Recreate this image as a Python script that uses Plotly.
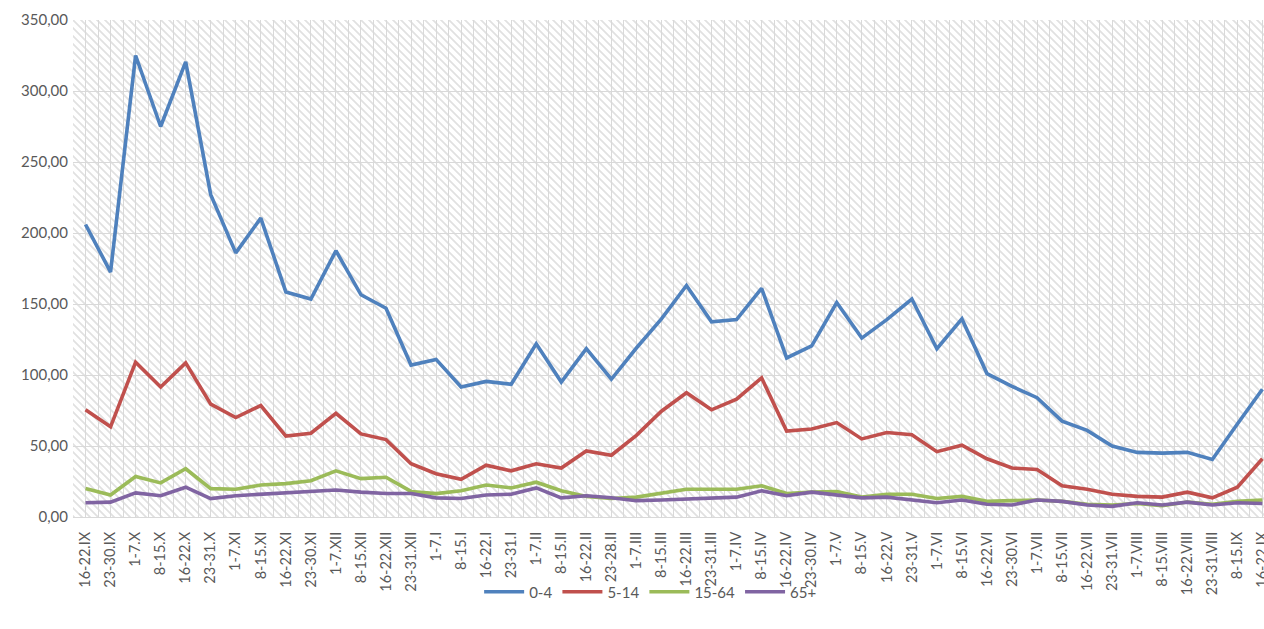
import base64
import plotly.graph_objects as go

categories = [
    "16-22.IX", "23-30.IX", "1-7.X", "8-15.X", "16-22.X", "23-31.X",
    "1-7.XI", "8-15.XI", "16-22.XI", "23-30.XI", "1-7.XII", "8-15.XII",
    "16-22.XII", "23-31.XII", "1-7.I", "8-15.I", "16-22.I", "23-31.I",
    "1-7.II", "8-15.II", "16-22.II", "23-28.II", "1-7.III", "8-15.III",
    "16-22.III", "23-31.III", "1-7.IV", "8-15.IV", "16-22.IV", "23-30.IV",
    "1-7.V", "8-15.V", "16-22.V", "23-31.V", "1-7.VI", "8-15.VI",
    "16-22.VI", "23-30.VI", "1-7.VII", "8-15.VII", "16-22.VII", "23-31.VII",
    "1-7.VIII", "8-15.VIII", "16-22.VIII", "23-31.VIII", "8-15.IX", "16-22.IX",
]

age_0_4 = [
    206, 172.5, 325, 275, 320.5, 227, 186, 210.5, 158.5, 153.5, 187.5, 156.5,
    147, 107, 111, 91.5, 95.5, 93.5, 122, 95, 118.5, 97, 119, 139.5,
    163, 137.5, 139, 161, 112, 120.5, 151, 126, 139, 153.5, 118.5, 139.5,
    101, 92, 84, 67.5, 61, 50, 45.5, 45, 45.5, 40.5, 65.5, 90,
]
age_5_14 = [
    75.5, 63.5, 109, 91.5, 108.5, 79.5, 70, 78.5, 57, 59, 73, 58.5,
    54.5, 37.5, 30.5, 26.5, 36.5, 32.5, 37.5, 34.5, 46.5, 43.5, 57.5, 74.5,
    87.5, 75.5, 83, 98, 60.5, 62, 66.5, 55, 59.5, 58, 46, 50.5,
    41, 34.5, 33.5, 22, 19.5, 16, 14.5, 14, 17.5, 13.5, 21, 41,
]
age_15_64 = [
    20, 15.5, 28.5, 24, 34, 20, 19.5, 22.5, 23.5, 25.5, 32.5, 27,
    28, 18, 16.5, 18.5, 22.5, 20.5, 24.5, 18.5, 14.5, 13, 14, 16.5,
    19.5, 19.5, 19.5, 22, 16.5, 17.5, 18, 14, 16, 16, 13, 14.5,
    11, 11.5, 12, 11, 9, 8.5, 9.5, 8, 10.5, 9, 11, 12,
]
age_65 = [
    10, 10.5, 17, 15, 21, 13, 15, 16, 17, 18.5, 19, 17.5,
    16.5, 16.5, 13.5, 13, 15.5, 16, 20.5, 13.5, 15, 13.5, 11.5, 12,
    12.5, 13, 14, 18.5, 15, 17.5, 15.5, 13.5, 14, 12, 10, 12,
    9, 8.5, 12, 11, 8.5, 7.5, 10, 8.5, 10.5, 8.5, 10, 9.5,
]

series = [
    ("0-4", age_0_4, "#4F81BD"),
    ("5-14", age_5_14, "#C0504D"),
    ("15-64", age_15_64, "#9BBB59"),
    ("65+", age_65, "#8064A2"),
]

W, H = 1264, 629
ML, MR, MT, MB = 73, 0, 20, 112
PW, PH = W - ML - MR, H - MT - MB

svg = (
    f'<svg xmlns="http://www.w3.org/2000/svg" width="{PW}" height="{PH}">'
    '<defs><pattern id="p" patternUnits="userSpaceOnUse" width="8" height="8">'
    '<path d="M-2,6 L2,10 M0,0 L8,8 M6,-2 L10,2" stroke="#e1e1e1" stroke-width="1.8"/>'
    '</pattern></defs><rect width="100%" height="100%" fill="url(#p)"/></svg>'
)
svg_uri = "data:image/svg+xml;base64," + base64.b64encode(svg.encode()).decode()

x_idx = list(range(len(categories)))

fig = go.Figure()
for name, vals, color in series:
    fig.add_trace(go.Scatter(
        x=x_idx, y=vals, name=name, mode="lines",
        line=dict(color=color, width=3.6),
    ))

grid = "#d9d9d9"
font_family = "Lato, 'Open Sans', sans-serif"
xmax = -0.5 + PW / 25.04

fig.update_layout(
    width=W, height=H,
    margin=dict(l=ML, r=MR, t=MT, b=MB, pad=0, autoexpand=False),
    paper_bgcolor="white",
    plot_bgcolor="rgba(0,0,0,0)",
    separators=", ",
    font=dict(family=font_family, color="#595959", size=15),
    showlegend=True,
    legend=dict(
        orientation="h", x=0.485, xanchor="center", y=-0.151, yanchor="middle",
        font=dict(size=15, color="#595959"), traceorder="normal",
        bgcolor="rgba(0,0,0,0)", itemwidth=40,
    ),
    images=[dict(
        source=svg_uri, xref="paper", yref="paper", x=0, y=1,
        sizex=1, sizey=1, sizing="stretch", xanchor="left", yanchor="top",
        layer="below",
    )],
    xaxis=dict(
        range=[-0.5, xmax], automargin=False,
        tickmode="array", tickvals=x_idx, ticktext=categories,
        tickangle=-90, tickfont=dict(size=14.5, color="#595959"),
        ticklabeloverflow="allow",
        showgrid=True, gridcolor=grid, gridwidth=1,
        minor=dict(tickmode="linear", tick0=0.5, dtick=1, showgrid=True,
                   gridcolor=grid, gridwidth=1),
        showline=True, linecolor=grid, linewidth=1,
        ticks="", ticklabelstandoff=8, zeroline=False,
    ),
    yaxis=dict(
        range=[0, 350], dtick=50, tickformat=".2f", automargin=False,
        tickfont=dict(size=15, color="#595959"),
        showgrid=True, gridcolor=grid, gridwidth=1,
        zeroline=False, showline=False, ticks="", ticklabelstandoff=4,
    ),
)

fig.write_html(
    "out.html",
    config={"displayModeBar": False},
    post_script="document.body.style.margin='0';document.body.style.overflow='hidden';",
)
